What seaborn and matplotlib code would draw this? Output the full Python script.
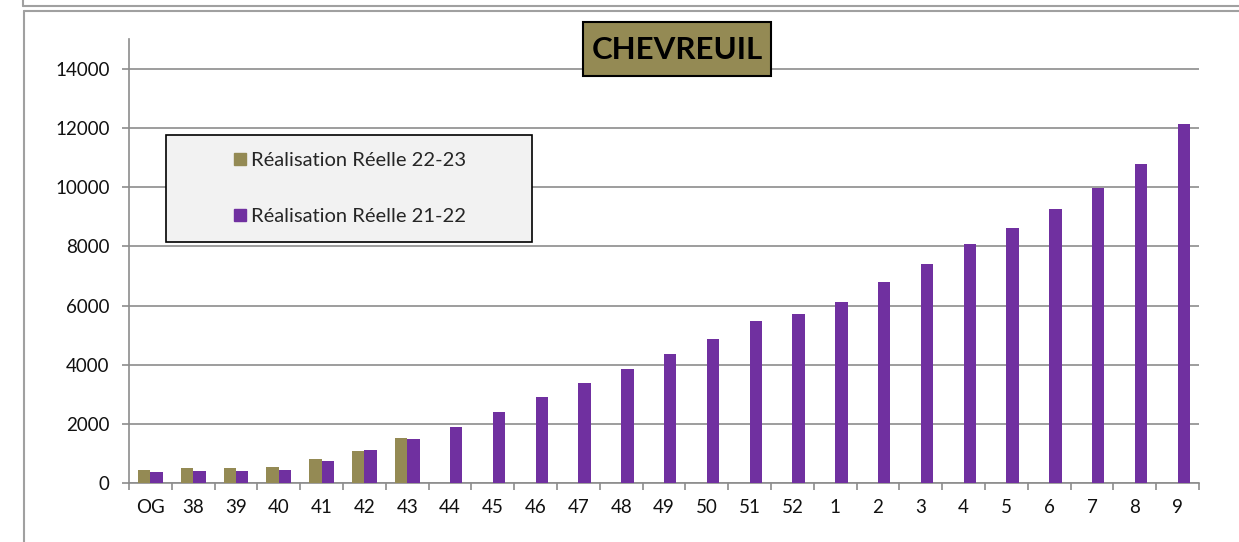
import matplotlib

matplotlib.use("Agg")
import matplotlib.pyplot as plt
import numpy as np
import pandas as pd
import seaborn as sns
from matplotlib.lines import Line2D
from matplotlib.patches import Rectangle

# semaines (OG + 38..52 + 1..9)
weeks = ["OG", "38", "39", "40", "41", "42", "43", "44", "45", "46", "47", "48",
         "49", "50", "51", "52", "1", "2", "3", "4", "5", "6", "7", "8", "9"]
# réalisation 22-23 (seulement les 7 premières semaines)
real_2223 = [455, 500, 513, 548, 832, 1106, 1540]
# réalisation 21-22
real_2122 = [387, 410, 420, 445, 763, 1141, 1494, 1890, 2395, 2900, 3374, 3846,
             4352, 4858, 5466, 5702, 6107, 6781, 7389, 8063, 8603, 9244, 9953,
             10796, 12146]

LAB_A = "Réalisation Réelle 22-23"
LAB_B = "Réalisation Réelle 21-22"
OLIVE = "#948A54"
PURPLE = "#7030A0"
GRID = "#8C8C8C"

df = pd.concat([
    pd.DataFrame({"semaine": weeks[:len(real_2223)], "valeur": real_2223, "serie": LAB_A}),
    pd.DataFrame({"semaine": weeks, "valeur": real_2122, "serie": LAB_B}),
])

sns.set_theme(style="white")
plt.rcParams["font.family"] = ["Lato", "DejaVu Sans"]

fig = plt.figure(figsize=(12.39, 5.42), dpi=100)
ax = fig.add_axes([129 / 1239, 1 - 483.3 / 542, 1070 / 1239, 444.3 / 542])

sns.barplot(data=df, x="semaine", y="valeur", hue="serie", order=weeks,
            hue_order=[LAB_A, LAB_B], palette=[OLIVE, PURPLE], width=0.575,
            saturation=1, errorbar=None, edgecolor="none", ax=ax, legend=False, zorder=3)

ax.set_xlim(-0.5, len(weeks) - 0.5)
ax.set_ylim(0, 15000)
ax.set_yticks(np.arange(0, 14001, 2000))
ax.set_xlabel("")
ax.set_ylabel("")
ax.yaxis.grid(True, color=GRID, lw=1.2, zorder=0)
ax.set_axisbelow(True)
for s in ["top", "right"]:
    ax.spines[s].set_visible(False)
for s in ["left", "bottom"]:
    ax.spines[s].set_color(GRID)
    ax.spines[s].set_linewidth(1.2)

ax.set_xticks(np.arange(-0.5, len(weeks)), minor=True)
ax.tick_params(axis="x", which="major", length=0, pad=11, labelsize=13.5, labelcolor="#111111")
ax.tick_params(axis="x", which="minor", length=5, width=1.2, color=GRID, direction="out", bottom=True)
ax.tick_params(axis="y", length=5, width=1.2, color=GRID, direction="out", left=True,
               pad=9, labelsize=13.5, labelcolor="#111111")

# légende dans un cadre gris clair
ax.add_patch(Rectangle((37 / 1070, 0.543), 366 / 1070, 0.241, transform=ax.transAxes,
                       facecolor="#F2F2F2", edgecolor="black", lw=1.2, zorder=5))
handles = [Line2D([], [], marker="s", ls="none", color=c, markersize=8.5) for c in (OLIVE, PURPLE)]
ax.legend(handles, [LAB_A, LAB_B], loc="center", bbox_to_anchor=((37 + 183) / 1070, 0.6635),
          frameon=False, fontsize=14.5, labelspacing=1.9, handletextpad=0.15,
          handlelength=0.8).set_zorder(6)

# titre dans une boîte olive
fig.add_artist(Rectangle((583 / 1239, 1 - 76 / 542), 188 / 1239, 54 / 542, transform=fig.transFigure,
                         facecolor=OLIVE, edgecolor="black", lw=1.5))
fig.text(677 / 1239, 1 - 50 / 542, "CHEVREUIL", ha="center", va="center", fontsize=22.5,
         fontweight="bold", color="black")

# cadres de la page
fr = "#A0A0A0"
fig.add_artist(Line2D([23 / 1239, 1], [1 - 6 / 542] * 2, color=fr, lw=1.5, transform=fig.transFigure))
fig.add_artist(Line2D([23 / 1239] * 2, [1 - 6 / 542, 1], color=fr, lw=1.5, transform=fig.transFigure))
fig.add_artist(Line2D([24 / 1239, 1], [1 - 11 / 542] * 2, color=fr, lw=1.5, transform=fig.transFigure))
fig.add_artist(Line2D([24 / 1239] * 2, [0, 1 - 11 / 542], color=fr, lw=1.5, transform=fig.transFigure))

fig.savefig("out.png", dpi=100)
